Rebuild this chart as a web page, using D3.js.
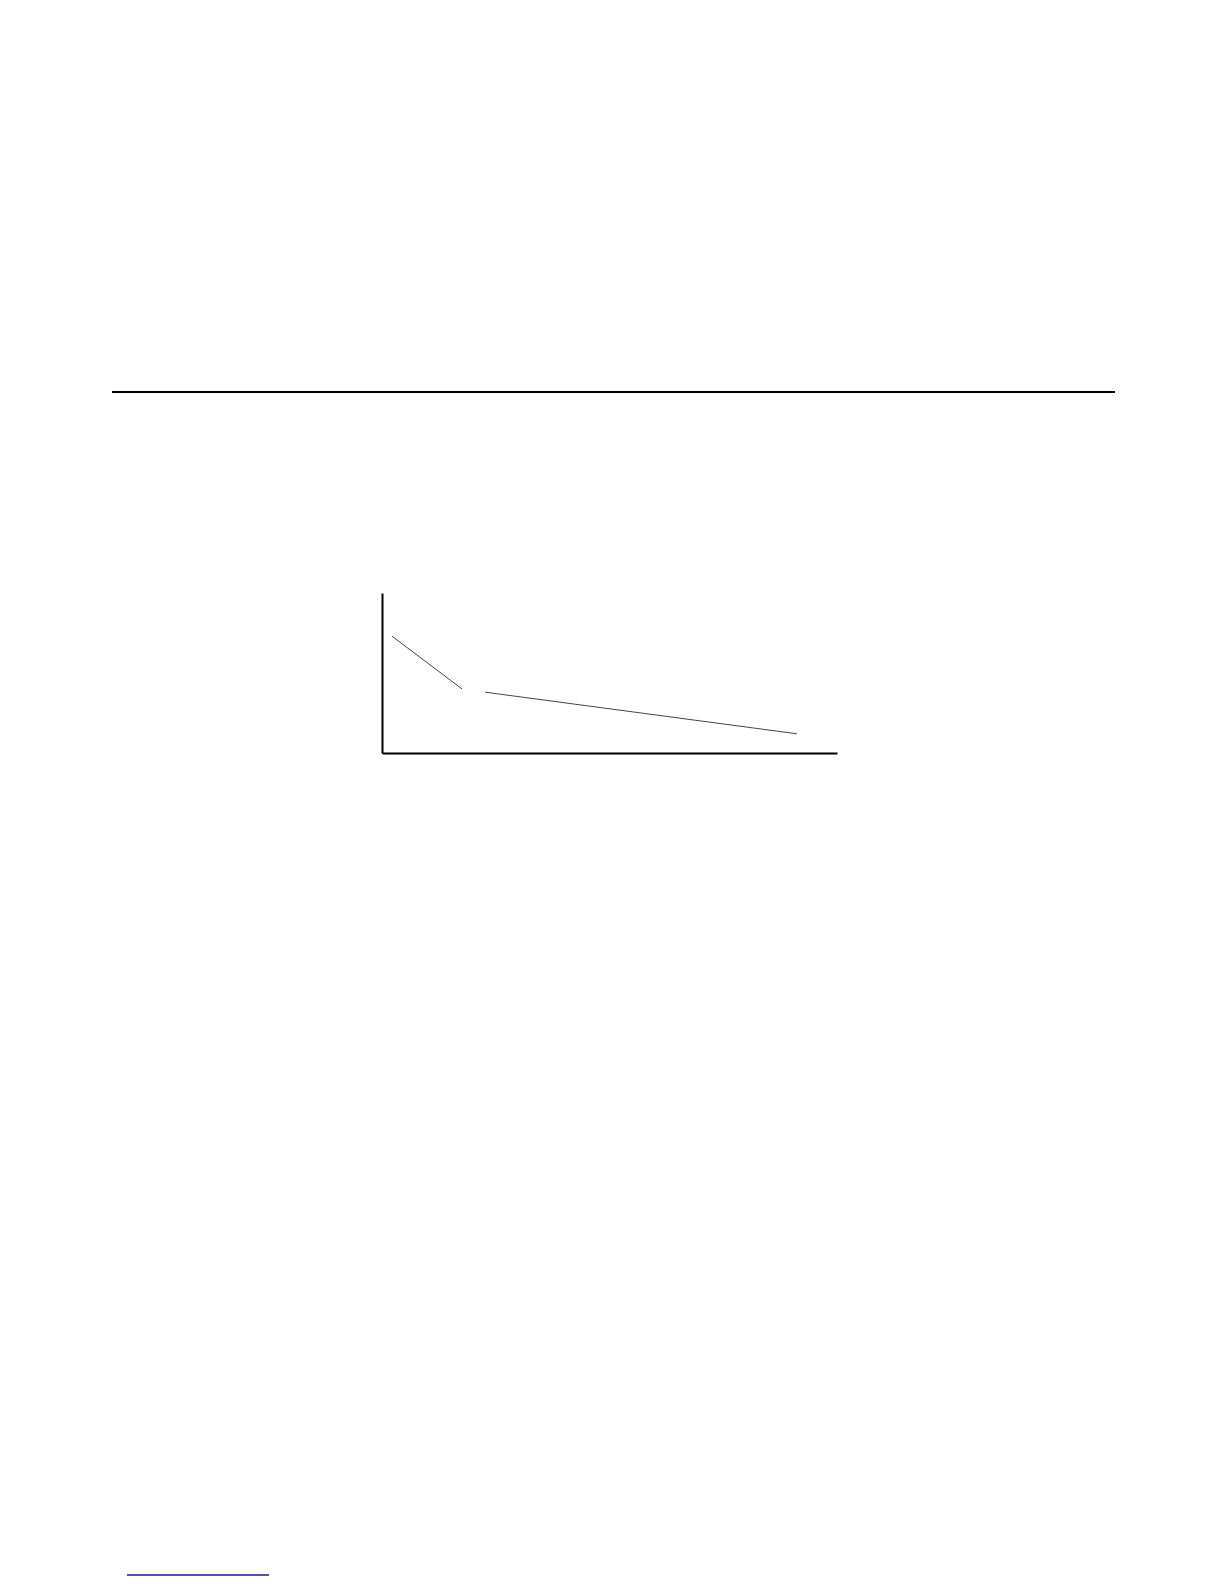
<!DOCTYPE html>
<html>
<head>
<meta charset="utf-8">
<script src="https://cdn.jsdelivr.net/npm/d3@7"></script>
<style>
  body { margin: 0; background: #fff; }
  svg { display: block; }
</style>
</head>
<body>
<div id="page"></div>
<script>
/* CONSTANTS */
const width = 1224,
  height = 1584;

// chart box on the page
const chart = { left: 382, right: 837, top: 593, bottom: 753 };

/* DATA */
// two pieces of one falling line, with a break between them
const xValues = [0.022, 0.176, null, 0.227, 0.912];
const yValues = [0.73, 0.40, null, 0.38, 0.12];

const points = xValues.map((x, i) => ({ x: x, y: yValues[i] }));

/* SVG */
const svg = d3.select("#page")
  .append("svg")
  .attr("width", width)
  .attr("height", height);

// rule across the page
svg.append("line")
  .attr("x1", 112)
  .attr("x2", 1115)
  .attr("y1", 392)
  .attr("y2", 392)
  .attr("stroke", "#000")
  .attr("stroke-width", 2);

/* SCALES */
const xScale = d3.scaleLinear()
  .domain([0, 1])
  .range([chart.left, chart.right]);

const yScale = d3.scaleLinear()
  .domain([0, 1])
  .range([chart.bottom, chart.top]);

/* AXES - no ticks, just the bare lines */
svg.append("g")
  .attr("class", "axis x-axis")
  .attr("transform", `translate(0,${chart.bottom})`)
  .call(d3.axisBottom(xScale).ticks(0).tickSizeOuter(0))
  .call(g => g.select(".domain").attr("stroke", "#000").attr("stroke-width", 2));

svg.append("g")
  .attr("class", "axis y-axis")
  .attr("transform", `translate(${chart.left},0)`)
  .call(d3.axisLeft(yScale).ticks(0).tickSizeOuter(0))
  .call(g => g.select(".domain").attr("stroke", "#000").attr("stroke-width", 2));

/* LINE */
const line = d3.line()
  .defined(d => d.x !== null && d.y !== null)
  .x(d => xScale(d.x))
  .y(d => yScale(d.y));

svg.append("path")
  .datum(points)
  .attr("d", line)
  .attr("fill", "none")
  .attr("stroke", "#444")
  .attr("stroke-width", 1);

// short footnote rule at the bottom
svg.append("line")
  .attr("x1", 127)
  .attr("x2", 269)
  .attr("y1", 1575)
  .attr("y2", 1575)
  .attr("stroke", "#1a1a8c")
  .attr("stroke-width", 1.5);
</script>
</body>
</html>
